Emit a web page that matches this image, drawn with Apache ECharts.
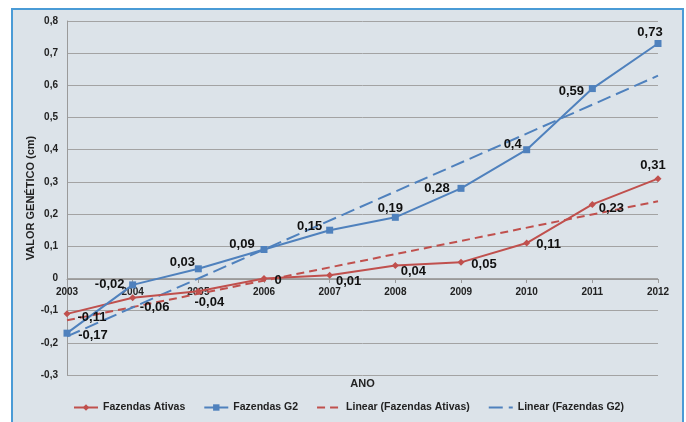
<!DOCTYPE html>
<html>
<head>
<meta charset="utf-8">
<script src="https://cdn.jsdelivr.net/npm/echarts@6/dist/echarts.min.js"></script>
<style>
  html, body { margin: 0; padding: 0; background: #ffffff; }
  #frame { position: absolute; left: 11px; top: 8px; width: 669px; height: 420px;
           border: 2px solid #4a9bd6; background: #dce3e9; }
  #echart_main { position: absolute; left: 0; top: 0; width: 686px; height: 422px; }
</style>
</head>
<body>
<div id="frame"></div>
<div id="echart_main"></div>
<script>
var anos = ['2003', '2004', '2005', '2006', '2007', '2008', '2009', '2010', '2011', '2012'];
var fazendasAtivas = [-0.11, -0.06, -0.04, 0, 0.01, 0.04, 0.05, 0.11, 0.23, 0.31];
var fazendasG2 = [-0.17, -0.02, 0.03, 0.09, 0.15, 0.19, 0.28, 0.4, 0.59, 0.73];
var linearAtivas = [-0.13, null, null, null, null, null, null, null, null, 0.24];
var linearG2 = [-0.18, null, null, null, null, null, null, null, null, 0.63];

// deslocamento dos rotulos (px) em relacao ao ponto
var offAtivas = [[25, 4], [22, 10], [11, 11], [14, 2], [19, 6], [18, 6], [23, 2], [22, 1], [19, 4], [-5, -13]];
var offG2 = [[26, 2], [-23, 0], [-16, -6], [-22, -5], [-20, -4], [-5, -9], [-24, 0], [-14, -5], [-21, 3], [-8, -11]];

function virgula(v) {
    if (v === 0) return '0';
    return String(v).replace('.', ',');
}

function comRotulo(vals, offs) {
    return vals.map(function (v, i) {
        return { value: v, label: { offset: offs[i] } };
    });
}

var myChart = echarts.init(document.getElementById('echart_main'));
var rotulo = {
    show: true,
    position: 'inside',
    align: 'center',
    verticalAlign: 'middle',
    fontFamily: 'Liberation Sans',
    fontWeight: 'bold',
    fontSize: 13,
    color: '#111',
    formatter: function (p) { return virgula(p.value); }
};

var option = {
    backgroundColor: 'transparent',
    animation: false,
    textStyle: { fontFamily: 'Liberation Sans' },
    grid: { left: 67, right: 28, top: 21, bottom: 47, containLabel: false, outerBoundsMode: 'none' },
    legend: {
        left: 68,
        bottom: 4,
        itemWidth: 24,
        itemHeight: 8,
        itemGap: 18,
        textStyle: { fontFamily: 'Liberation Sans', fontWeight: 'bold', fontSize: 10.5, color: '#222' },
        data: [
            'Fazendas Ativas',
            'Fazendas G2',
            { name: 'Linear (Fazendas Ativas)', itemStyle: { opacity: 0 } },
            { name: 'Linear (Fazendas G2)', itemStyle: { opacity: 0 } }
        ]
    },
    xAxis: {
        type: 'category',
        data: anos,
        boundaryGap: false,
        position: 'bottom',
        offset: -96,   // eixo sobre a linha do zero
        name: 'ANO',
        nameLocation: 'middle',
        nameGap: 99,
        nameTextStyle: { fontWeight: 'bold', fontSize: 11, color: '#222' },
        axisLine: { onZero: false, lineStyle: { color: '#9a9a9a', width: 1 } },
        axisTick: { show: true, length: 4, lineStyle: { color: '#9a9a9a' } },
        axisLabel: { margin: 8, fontWeight: 'bold', fontSize: 10, color: '#222' },
        splitLine: { show: false }
    },
    yAxis: {
        type: 'value',
        min: -0.3,
        max: 0.8,
        interval: 0.1,
        name: 'VALOR GENÉTICO (cm)',
        nameLocation: 'middle',
        nameRotate: 90,
        nameGap: 31,
        nameMoveOverlap: false,
        nameTextStyle: { fontWeight: 'bold', fontSize: 11, color: '#222' },
        axisLine: { show: true, lineStyle: { color: '#9a9a9a' } },
        axisTick: { show: false },
        axisLabel: {
            margin: 9,
            fontWeight: 'bold',
            fontSize: 10,
            color: '#222',
            formatter: function (v) { return virgula(Math.round(v * 10) / 10); }
        },
        splitLine: { lineStyle: { color: '#a3a3a3', width: 1 } }
    },
    series: [
        {
            name: 'Fazendas Ativas',
            type: 'line',
            data: comRotulo(fazendasAtivas, offAtivas),
            symbol: 'diamond',
            symbolSize: 7,
            itemStyle: { color: '#c0504d' },
            lineStyle: { color: '#c0504d', width: 2 },
            label: rotulo,
            z: 3
        },
        {
            name: 'Fazendas G2',
            type: 'line',
            data: comRotulo(fazendasG2, offG2),
            symbol: 'rect',
            symbolSize: 7,
            itemStyle: { color: '#4f81bd' },
            lineStyle: { color: '#4f81bd', width: 2 },
            label: rotulo,
            z: 3
        },
        {
            name: 'Linear (Fazendas Ativas)',
            type: 'line',
            data: linearAtivas,
            connectNulls: true,
            showSymbol: false,
            symbol: 'none',
            itemStyle: { color: '#c0504d' },
            lineStyle: { color: '#c0504d', width: 2, type: [8, 5] },
            z: 2
        },
        {
            name: 'Linear (Fazendas G2)',
            type: 'line',
            data: linearG2,
            connectNulls: true,
            showSymbol: false,
            symbol: 'none',
            itemStyle: { color: '#4f81bd' },
            lineStyle: { color: '#4f81bd', width: 2, type: [14, 6] },
            z: 2
        }
    ]
};
myChart.setOption(option);
window.onresize = function () {
    myChart.resize();
};
</script>
</body>
</html>
